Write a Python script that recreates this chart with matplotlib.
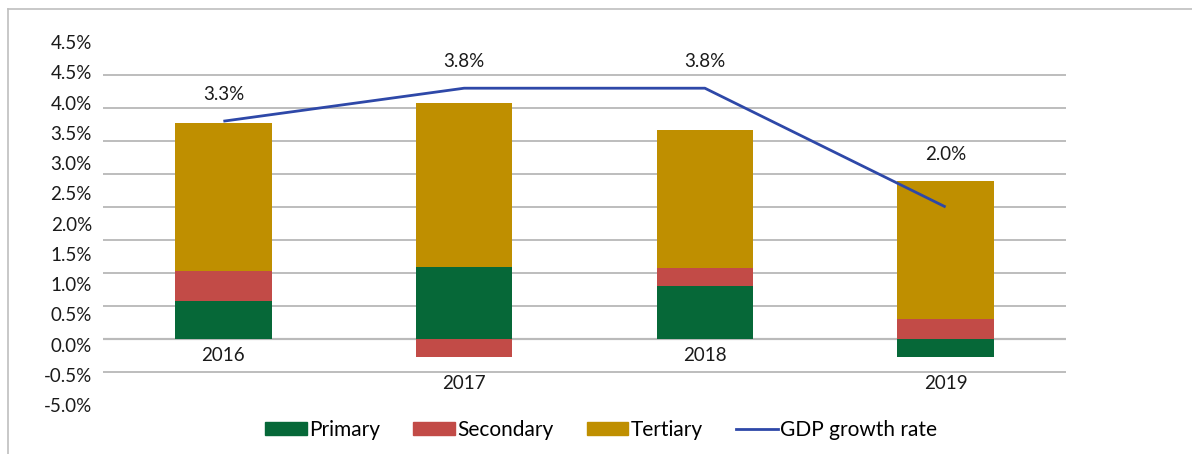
import matplotlib.pyplot as plt
import numpy as np
from matplotlib.lines import Line2D
from matplotlib.patches import Patch

plt.rcParams['font.family'] = ['Lato', 'DejaVu Sans']

# data (% points)
years = ['2016', '2017', '2018', '2019']
primary = [0.57, 1.09, 0.80, -0.28]
secondary = [0.46, -0.28, 0.28, 0.30]
tertiary = [2.24, 2.49, 2.09, 2.09]
gdp = [3.3, 3.8, 3.8, 2.0]

# y labels as printed in the source (evenly spread over the axis)
ytick_labels = ['-5.0%', '-0.5%', '0.0%', '0.5%', '1.0%', '1.5%', '2.0%',
                '2.5%', '3.0%', '3.5%', '4.0%', '4.5%', '4.5%']
grid_vals = np.arange(-1.0, 4.51, 0.5)

colors = {'Primary': '#066838', 'Secondary': '#C24B47', 'Tertiary': '#BF8F00'}
line_color = '#2E48A8'

fig = plt.figure(figsize=(11.92, 4.54), dpi=100)
ax = fig.add_axes([103/1192, 1 - 405/454, (1066 - 103)/1192, (405 - 42)/454])

x = np.arange(len(years))
pos_bottom = np.zeros(len(years))
neg_bottom = np.zeros(len(years))
for name, vals in [('Primary', primary), ('Secondary', secondary), ('Tertiary', tertiary)]:
    vals = np.array(vals)
    bottoms = np.where(vals >= 0, pos_bottom, neg_bottom)
    ax.bar(x, vals, 0.4, bottom=bottoms, color=colors[name], zorder=3)
    pos_bottom = pos_bottom + np.where(vals >= 0, vals, 0)
    neg_bottom = neg_bottom + np.where(vals < 0, vals, 0)

ax.plot(x, gdp, color=line_color, lw=2.0, zorder=4, solid_capstyle='butt')

# data labels for the growth rate
for xi, g, top in zip(x, gdp, pos_bottom):
    ax.annotate(f'{g:.1f}%', (xi, max(g, top)), xytext=(0, 19.5),
                textcoords='offset points', ha='center', va='center',
                fontsize=13.5, color='#1a1a1a')

# category labels under each bar
for xi, yr, low in zip(x, years, neg_bottom):
    off = -19 if low < 0 else -12
    ax.annotate(yr, (xi, low), xytext=(0, off), textcoords='offset points',
                ha='center', va='center', fontsize=13.5, color='#1a1a1a')

ax.set_xlim(-0.5, 3.5)
ax.set_ylim(-1.0, 4.5)
ax.set_xticks([])
ax.set_yticks(np.linspace(-1.0, 4.5, len(ytick_labels)), ytick_labels)
ax.set_yticks(grid_vals, minor=True)
ax.tick_params(axis='y', which='both', length=0, pad=8, labelsize=13.5,
               labelcolor='#1a1a1a')
ax.grid(False)
ax.grid(axis='y', which='minor', color='#BDBDBD', lw=1.4, zorder=0)
ax.axhline(0, color='#707070', lw=1.5, zorder=1)
for s in ax.spines.values():
    s.set_visible(False)

handles = [Patch(color=colors['Primary']), Patch(color=colors['Secondary']),
           Patch(color=colors['Tertiary']), Line2D([], [], color=line_color, lw=2)]
fig.legend(handles, ['Primary', 'Secondary', 'Tertiary', 'GDP growth rate'],
           loc='center', bbox_to_anchor=(601/1192, 1 - 430/454), ncol=4,
           frameon=False, fontsize=15, handlelength=2.0, handleheight=0.6,
           handletextpad=0.1, columnspacing=1.6)

# outer frame (top and left only)
fig.add_artist(Line2D([8/1192, 8/1192], [0, 1 - 9/454], color='#BFBFBF', lw=1.2))
fig.add_artist(Line2D([8/1192, 1], [1 - 9/454, 1 - 9/454], color='#BFBFBF', lw=1.2))

fig.savefig('out.png', dpi=100, facecolor='white')
